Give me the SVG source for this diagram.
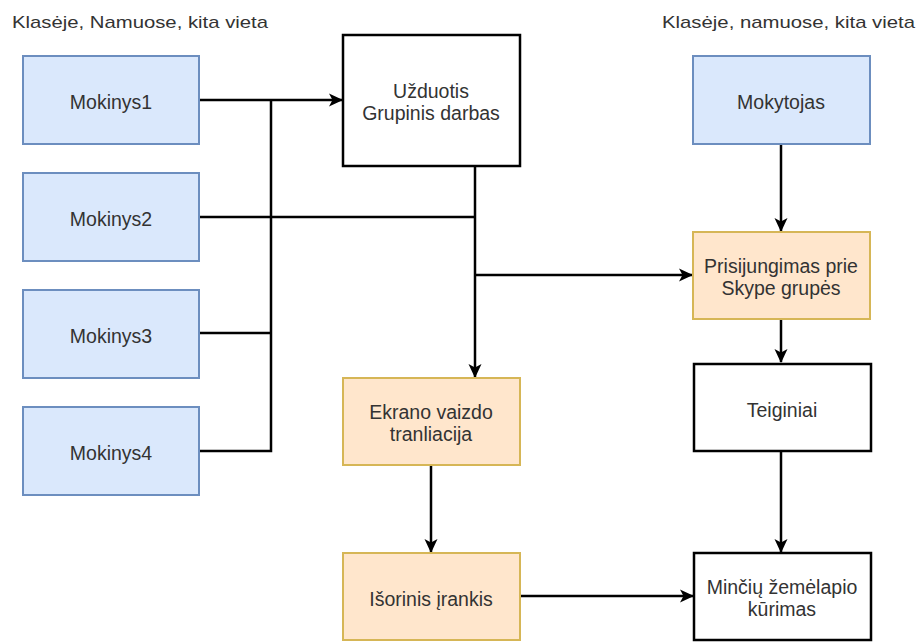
<svg xmlns="http://www.w3.org/2000/svg" width="921" height="642" viewBox="0 0 921 642">
  <style>
    .lbl { font-family: "Liberation Sans", Arial, sans-serif; font-size: 19.5px; fill: #333333; text-anchor: middle; }
    .hdr { font-family: "Liberation Sans", Arial, sans-serif; font-size: 17px; fill: #333333; }
    .blue { fill: #dae8fc; stroke: #6c8ebf; stroke-width: 2; }
    .orange { fill: #ffe6cc; stroke: #d6b656; stroke-width: 2; }
    .plain { fill: #ffffff; stroke: #000000; stroke-width: 2.5; }
    .edge { fill: none; stroke: #000000; stroke-width: 2.5; }
  </style>
  <defs>
    <!-- notched arrowhead, sized in user units -->
    <marker id="arrow" viewBox="0 0 14 14" refX="13" refY="7" markerWidth="14" markerHeight="14" markerUnits="userSpaceOnUse" orient="auto">
      <path d="M0,0.5 L14,7 L0,13.5 L3.5,7 Z" fill="#000000"/>
    </marker>
  </defs>
  <rect width="921" height="642" fill="#ffffff"/>

  <!-- location headings -->
  <text class="hdr" x="12" y="28" textLength="256" lengthAdjust="spacingAndGlyphs">Klasėje, Namuose, kita vieta</text>
  <text class="hdr" x="662" y="28" textLength="253" lengthAdjust="spacingAndGlyphs">Klasėje, namuose, kita vieta</text>

  <!-- connectors -->
  <g id="connectors">
    <path class="edge" d="M199,100 H342" marker-end="url(#arrow)"/>
    <path class="edge" d="M199,451 H271 V100"/>
    <path class="edge" d="M199,333 H271"/>
    <path class="edge" d="M199,217 H475" stroke-width="2"/>
    <path class="edge" d="M475,166 V377" marker-end="url(#arrow)"/>
    <path class="edge" d="M475,275 H692" stroke-width="2" marker-end="url(#arrow)"/>
    <path class="edge" d="M781,144 V231" marker-end="url(#arrow)"/>
    <path class="edge" d="M781,319 V362" marker-end="url(#arrow)"/>
    <path class="edge" d="M781,451 V552" marker-end="url(#arrow)"/>
    <path class="edge" d="M431,465 V552" marker-end="url(#arrow)"/>
    <path class="edge" d="M520,596 H693" marker-end="url(#arrow)"/>
  </g>

  <!-- nodes -->
  <g id="mokinys1">
    <rect class="blue" x="23" y="56" width="176" height="88"/>
    <text class="lbl" x="111" y="109">Mokinys1</text>
  </g>
  <g id="mokinys2">
    <rect class="blue" x="23" y="173" width="176" height="88"/>
    <text class="lbl" x="111" y="226">Mokinys2</text>
  </g>
  <g id="mokinys3">
    <rect class="blue" x="23" y="290" width="176" height="88"/>
    <text class="lbl" x="111" y="343">Mokinys3</text>
  </g>
  <g id="mokinys4">
    <rect class="blue" x="23" y="407" width="176" height="88"/>
    <text class="lbl" x="111" y="460">Mokinys4</text>
  </g>
  <g id="uzduotis">
    <rect class="plain" x="343" y="35" width="177" height="131"/>
    <text class="lbl" x="431" y="98">Užduotis</text>
    <text class="lbl" x="431" y="120">Grupinis darbas</text>
  </g>
  <g id="mokytojas">
    <rect class="blue" x="693" y="56" width="177" height="88"/>
    <text class="lbl" x="781" y="109">Mokytojas</text>
  </g>
  <g id="prisijungimas">
    <rect class="orange" x="693" y="232" width="177" height="87"/>
    <text class="lbl" x="781" y="273">Prisijungimas prie</text>
    <text class="lbl" x="781" y="295">Skype grupės</text>
  </g>
  <g id="ekrano">
    <rect class="orange" x="343" y="378" width="177" height="87"/>
    <text class="lbl" x="431" y="419">Ekrano vaizdo</text>
    <text class="lbl" x="431" y="441">tranliacija</text>
  </g>
  <g id="teiginiai">
    <rect class="plain" x="694" y="364" width="177" height="87"/>
    <text class="lbl" x="782" y="417">Teiginiai</text>
  </g>
  <g id="isorinis">
    <rect class="orange" x="343" y="553" width="177" height="87"/>
    <text class="lbl" x="431" y="606">Išorinis įrankis</text>
  </g>
  <g id="minciu">
    <rect class="plain" x="694" y="553" width="177" height="87"/>
    <text class="lbl" x="782" y="594">Minčių žemėlapio</text>
    <text class="lbl" x="782" y="616">kūrimas</text>
  </g>
</svg>
